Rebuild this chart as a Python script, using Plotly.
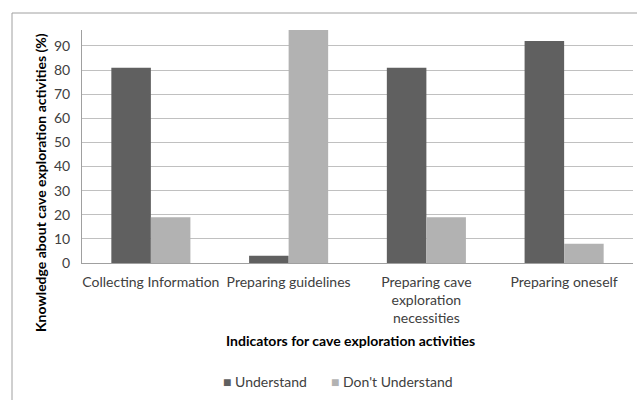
import plotly.graph_objects as go

categories = ["Collecting Information", "Preparing guidelines",
              "Preparing cave<br>exploration<br>necessities", "Preparing oneself"]
understand = [81, 3, 81, 92]
dont_understand = [19, 97, 19, 8]
y_ticks = [0, 10, 20, 30, 40, 50, 60, 70, 80, 90]
series_names = ["Understand", "Don't Understand"]
series_colors = ["#606060", "#b2b2b2"]

W, H = 637, 400
L, R, T, B = 82, 4, 30, 137
pw, ph = W - L - R, H - T - B

FONT = "Lato"

fig = go.Figure()
for name, vals, col in zip(series_names, [understand, dont_understand], series_colors):
    fig.add_trace(go.Bar(name=name, x=categories, y=vals,
                         marker=dict(color=col, line=dict(width=0))))

def px_x(x):
    return (x - L) / pw

def px_y(y):
    return (H - B - y) / ph

legend_anns = []
for name, col, xpos in zip(series_names, series_colors, [221, 329]):
    legend_anns.append(dict(
        text=f"<span style='color:{col}'>■</span> {name}",
        xref="paper", yref="paper", x=px_x(xpos), y=px_y(381),
        xanchor="left", yanchor="middle", showarrow=False,
        font=dict(family=FONT, size=14, color="#404040")))

fig.update_layout(
    width=W, height=H,
    margin=dict(l=L, r=R, t=T, b=B),
    paper_bgcolor="white", plot_bgcolor="white",
    barmode="group", bargap=0.426, bargroupgap=0,
    font=dict(family=FONT, size=14, color="#404040"),
    showlegend=False,
    xaxis=dict(showline=True, linecolor="#a0a0a0", linewidth=1,
               ticks="", ticklabelstandoff=6,
               tickfont=dict(family=FONT, size=14, color="#404040"),
               showgrid=False),
    yaxis=dict(range=[0, 96.6], tickvals=y_ticks, showgrid=True,
               gridcolor="#c0c0c0", gridwidth=1, showline=True,
               linecolor="#a0a0a0", linewidth=1, ticks="",
               ticklen=0, zeroline=False, ticklabelstandoff=8,
               tickfont=dict(family=FONT, size=14, color="#404040")),
    shapes=[dict(type="rect", xref="paper", yref="paper",
                 x0=px_x(12), x1=px_x(640), y0=px_y(403), y1=px_y(13),
                 line=dict(color="#a0a0a0", width=1), fillcolor="rgba(0,0,0,0)",
                 layer="below")],
    annotations=[
        dict(text="<b>Indicators for cave exploration activities</b>",
             xref="paper", yref="paper", x=px_x(350), y=px_y(340),
             xanchor="center", yanchor="middle", showarrow=False,
             font=dict(family=FONT, size=14, color="#000000")),
        dict(text="<b>Knowledge about cave exploration activities (%)</b>",
             xref="paper", yref="paper", x=px_x(40), y=px_y(183),
             xanchor="center", yanchor="middle", showarrow=False,
             textangle=-90,
             font=dict(family=FONT, size=14, color="#000000")),
    ] + legend_anns,
)

fig.write_html("out.html")
